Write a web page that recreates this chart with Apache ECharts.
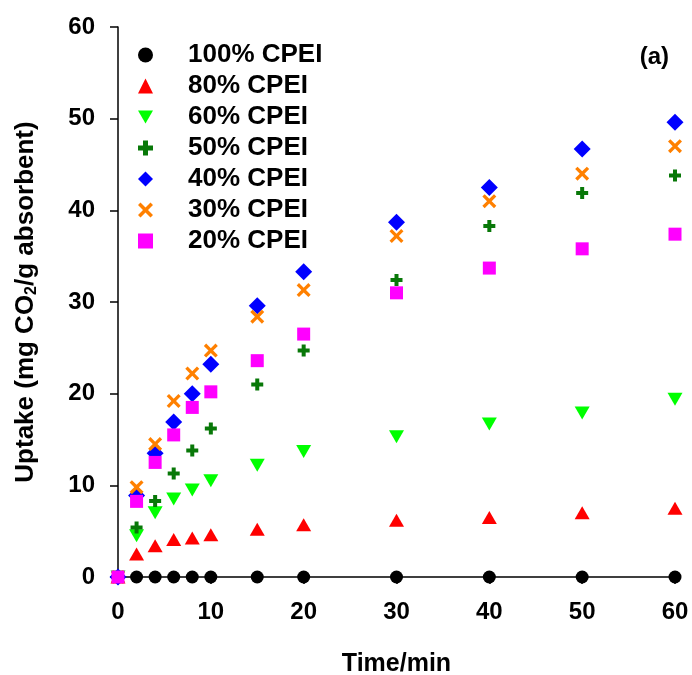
<!DOCTYPE html>
<html>
<head>
<meta charset="utf-8">
<script src="https://cdn.jsdelivr.net/npm/echarts@6/dist/echarts.min.js"></script>
<style>html,body{margin:0;padding:0;background:#fff}#c{width:692px;height:675px}</style>
</head>
<body>
<div id="c"></div>
<script>
const times = [0, 2, 4, 6, 8, 10, 15, 20, 30, 40, 50, 60];
const cpei100 = [0, 0, 0, 0, 0, 0, 0, 0, 0, 0, 0, 0];
const cpei80 = [0, 2.5, 3.4, 4.1, 4.25, 4.6, 5.2, 5.7, 6.2, 6.5, 7.0, 7.5];
const cpei60 = [0, 4.5, 7.0, 8.5, 9.5, 10.5, 12.2, 13.7, 15.3, 16.7, 17.9, 19.4];
const cpei50 = [0, 5.4, 8.3, 11.3, 13.8, 16.2, 21.0, 24.7, 32.4, 38.3, 41.9, 43.8];
const cpei40 = [0, 8.9, 13.5, 16.9, 20.0, 23.2, 29.6, 33.3, 38.7, 42.5, 46.7, 49.6];
const cpei30 = [0, 9.8, 14.5, 19.2, 22.2, 24.7, 28.4, 31.3, 37.2, 41.0, 44.0, 47.0];
const cpei20 = [0, 8.25, 12.5, 15.5, 18.5, 20.2, 23.6, 26.5, 31.0, 33.7, 35.8, 37.4];
const seriesNames = ['100% CPEI', '80% CPEI', '60% CPEI', '50% CPEI', '40% CPEI', '30% CPEI', '20% CPEI'];
const xTicks = [0, 10, 20, 30, 40, 50, 60];
const yTicks = [0, 10, 20, 30, 40, 50, 60];

const FONT = "'Liberation Sans', Arial, sans-serif";
const PLUS = 'path://M4,0H8V4H12V8H8V12H4V8H0V4H4Z';
const CROSS = 'path://M0,2L2,0L6,4L10,0L12,2L8,6L12,10L10,12L6,8L2,12L0,10L4,6Z';
const DOWNTRI = 'path://M0,0L15,0L7.5,13Z';

const valueSets = [cpei100, cpei80, cpei60, cpei50, cpei40, cpei30, cpei20];
const styles = [
  {symbol: 'circle', size: 13, color: '#000000'},
  {symbol: 'triangle', size: [15, 13], color: '#ff0000'},
  {symbol: DOWNTRI, size: [15, 13], color: '#00ff00'},
  {symbol: PLUS, size: 12, color: '#087808'},
  {symbol: 'diamond', size: 17, color: '#0000ff'},
  {symbol: CROSS, size: 14, color: '#ff8000'},
  {symbol: 'rect', size: 13, color: '#ff00ff'}
];

const series = seriesNames.map((name, i) => ({
  name: name,
  type: 'scatter',
  data: times.map((t, j) => [t, valueSets[i][j]]),
  symbol: styles[i].symbol,
  symbolSize: styles[i].size,
  itemStyle: {color: styles[i].color, opacity: 1},
  emphasis: {disabled: true},
  clip: false,
  z: 3 + i
}));

const chart = echarts.init(document.getElementById('c'), null, {renderer: 'canvas'});
chart.setOption({
  animation: false,
  backgroundColor: '#ffffff',
  grid: {left: 118, right: 17, top: 27, bottom: 98, containLabel: false, outerBoundsMode: 'none'},
  xAxis: {
    type: 'value', min: 0, max: 60, interval: 10,
    name: 'Time/min', nameLocation: 'middle', nameGap: 75,
    nameTextStyle: {fontFamily: FONT, fontWeight: 'bold', fontSize: 25, color: '#000'},
    axisLine: {show: true, onZero: false, lineStyle: {color: '#000', width: 1.5}},
    axisTick: {show: true, inside: false, length: 7, lineStyle: {color: '#000', width: 1.5}},
    axisLabel: {fontFamily: FONT, fontWeight: 'bold', fontSize: 24, color: '#000', margin: 23,
      formatter: v => xTicks.includes(v) ? String(v) : ''},
    splitLine: {show: false}
  },
  yAxis: {
    type: 'value', min: 0, max: 60, interval: 10,
    name: 'Uptake (mg CO{sub|2}/g absorbent)', nameLocation: 'middle', nameGap: 78,
    nameTextStyle: {fontFamily: FONT, fontWeight: 'bold', fontSize: 26, color: '#000',
      rich: {sub: {fontFamily: FONT, fontWeight: 'bold', fontSize: 16, color: '#000', verticalAlign: 'bottom', padding: [12, 0, 0, 0]}}},
    axisLine: {show: true, lineStyle: {color: '#000', width: 1.5}},
    axisTick: {show: true, inside: false, length: 8, lineStyle: {color: '#000', width: 1.5}},
    axisLabel: {fontFamily: FONT, fontWeight: 'bold', fontSize: 24, color: '#000', margin: 23,
      formatter: v => yTicks.includes(v) ? String(v) : ''},
    splitLine: {show: false}
  },
  legend: {
    orient: 'vertical', left: 133, top: 37,
    itemWidth: 15, itemHeight: 15, itemGap: 5,
    data: seriesNames,
    textStyle: {fontFamily: FONT, fontWeight: 'bold', fontSize: 26, color: '#000', lineHeight: 26, padding: [0, 0, 0, 30]},
    selectedMode: false
  },
  graphic: [{
    type: 'text', right: 23, top: 45,
    style: {text: '(a)', font: 'bold 24px ' + FONT, fill: '#000'}
  }],
  series: series
});
</script>
</body>
</html>
